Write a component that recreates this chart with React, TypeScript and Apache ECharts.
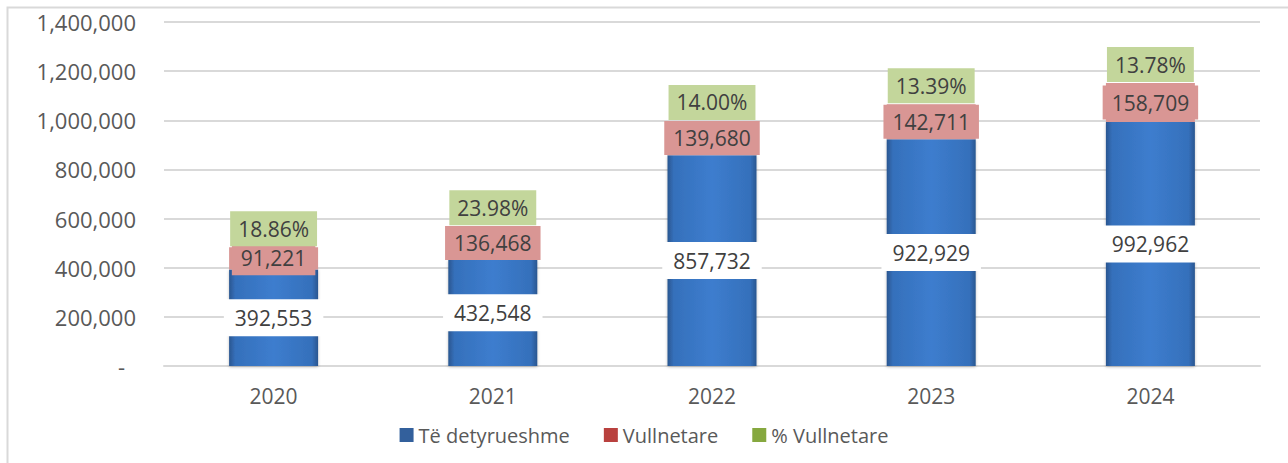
import React, { useEffect, useRef } from "react";
import * as echarts from "echarts";

const years = ["2020", "2021", "2022", "2023", "2024"];
const mandatory = [392553, 432548, 857732, 922929, 992962];
const voluntary = [91221, 136468, 139680, 142711, 158709];
const voluntaryPct = ["18.86%", "23.98%", "14.00%", "13.39%", "13.78%"];
const yTicks = { min: 0, max: 1400000, interval: 200000 };

const FONT = "Open Sans";
const TXT = "#404040";
const fmt = (v: number) => v.toLocaleString("en-US");

export default function App() {
  const ref = useRef<HTMLDivElement>(null);
  useEffect(() => {
    if (!ref.current) return;
    const chart = echarts.init(ref.current, undefined, { renderer: "svg" });
    const blueGrad = new echarts.graphic.LinearGradient(0, 0, 1, 0, [
      { offset: 0, color: "#2a5690" },
      { offset: 0.07, color: "#3570bb" },
      { offset: 0.5, color: "#3d7dce" },
      { offset: 0.93, color: "#3570bb" },
      { offset: 1, color: "#2a5690" },
    ]);
    chart.setOption({
      animation: false,
      textStyle: { fontFamily: FONT },
      graphic: [
        {
          type: "rect",
          shape: { x: 7.5, y: 7.5, width: 1400, height: 600 },
          style: { fill: "none", stroke: "#d9d9d9", lineWidth: 2 },
          silent: true,
        },
      ],
      grid: { left: 164, right: 28, top: 22, bottom: 97 },
      legend: {
        left: "center",
        top: 420,
        itemWidth: 14,
        itemHeight: 14,
        itemGap: 34,
        icon: "rect",
        textStyle: { fontFamily: FONT, fontSize: 20, color: "#595959" },
        data: [
          { name: "Të detyrueshme", itemStyle: { color: "#33609c" } },
          { name: "Vullnetare", itemStyle: { color: "#b9413e" } },
          { name: "% Vullnetare", itemStyle: { color: "#86a83f" } },
        ],
      },
      xAxis: {
        type: "category",
        data: years,
        axisTick: { show: false },
        axisLine: { lineStyle: { color: "#d9d9d9", width: 2 } },
        axisLabel: { fontFamily: FONT, fontSize: 21, color: "#595959", margin: 19 },
      },
      yAxis: {
        type: "value",
        min: yTicks.min,
        max: yTicks.max,
        interval: yTicks.interval,
        axisLine: { show: false },
        axisTick: { show: false },
        splitLine: { lineStyle: { color: "#d9d9d9", width: 2 } },
        axisLabel: {
          margin: 28,
          fontFamily: FONT,
          fontSize: 22,
          color: "#595959",
          formatter: (v: number) => (v === 0 ? "{d|-}" : fmt(v)),
          rich: { d: { fontFamily: FONT, fontSize: 22, color: "#595959", padding: [0, 11, 0, 0] } },
        },
      },
      series: [
        {
          name: "Të detyrueshme",
          type: "bar",
          stack: "s",
          barWidth: "40.6%",
          data: mandatory,
          itemStyle: { color: blueGrad, shadowColor: "rgba(0,0,0,0.25)", shadowBlur: 3, shadowOffsetY: 1 },
          label: {
            show: true,
            position: "inside",
            formatter: (p: any) => fmt(p.value),
            fontFamily: FONT,
            fontSize: 21,
            color: TXT,
            backgroundColor: "#ffffff",
            padding: [5, 11, 5, 11],
            lineHeight: 27,
          },
        },
        {
          name: "Vullnetare",
          type: "bar",
          stack: "s",
          data: voluntary,
          itemStyle: { color: "#d99694" },
          label: {
            show: true,
            position: "inside",
            formatter: (p: any) => fmt(p.value),
            fontFamily: FONT,
            fontSize: 21,
            color: TXT,
            backgroundColor: "#d99694",
            padding: [4, 9, 3, 9],
            lineHeight: 27,
          },
        },
        {
          name: "% Vullnetare",
          type: "bar",
          stack: "s",
          data: voluntaryPct.map(() => 0),
          itemStyle: { color: "#9bbb59" },
          label: {
            show: true,
            position: "top",
            distance: 1,
            formatter: (p: any) => voluntaryPct[p.dataIndex],
            fontFamily: FONT,
            fontSize: 21,
            color: TXT,
            backgroundColor: "#c3d69b",
            padding: [4, 8, 4, 8],
            lineHeight: 27,
          },
        },
      ],
    });
    return () => chart.dispose();
  }, []);
  return (
    <div
      ref={ref}
      style={{ position: "fixed", left: 0, top: 0, width: 1288, height: 463, background: "#fff" }}
    />
  );
}
